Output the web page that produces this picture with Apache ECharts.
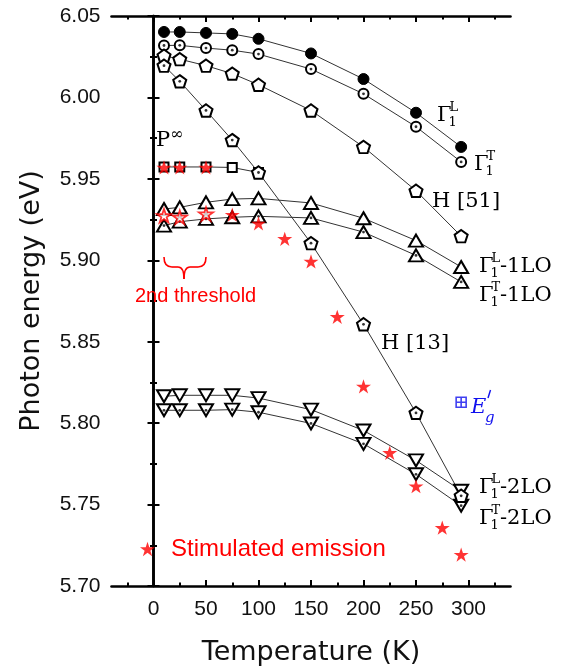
<!DOCTYPE html>
<html><head><meta charset="utf-8">
<script src="https://cdn.jsdelivr.net/npm/echarts@6/dist/echarts.min.js"></script>
<style>html,body{margin:0;padding:0;background:#fff}#c{width:578px;height:671px}</style>
</head><body><div id="c"></div><script>
// ---- data ----
const temps = [10, 25, 50, 75, 100, 150, 200, 250, 293];
const gammaL    = [6.0402, 6.0402, 6.0396, 6.0390, 6.0360, 6.0270, 6.0113, 5.9906, 5.9696];
const gammaT    = [6.0319, 6.0320, 6.0303, 6.0290, 6.0266, 6.0174, 6.0022, 5.9820, 5.9604];
const h51       = [6.0256, 6.0235, 6.0195, 6.0146, 6.0078, 5.9920, 5.9696, 5.9427, 5.9148];
const h13       = [6.0195, 6.0099, 5.9920, 5.9738, 5.9539, 5.9105, 5.8607, 5.8063, 5.7554];
const gammaL1LO = [5.9315, 5.9325, 5.9356, 5.9376, 5.9380, 5.9352, 5.9258, 5.9121, 5.8959];
const gammaT1LO = [5.9213, 5.9237, 5.9254, 5.9264, 5.9270, 5.9260, 5.9173, 5.9030, 5.8867];
const gammaL2LO = [5.8165, 5.8171, 5.8171, 5.8171, 5.8154, 5.8083, 5.7955, 5.7771, 5.7585];
const gammaT2LO = [5.8079, 5.8079, 5.8079, 5.8083, 5.8067, 5.7998, 5.7873, 5.7686, 5.7493];
const pInfTemps = [10, 25, 50, 75, 100];
const pInf      = [5.9573, 5.9573, 5.9573, 5.9570, 5.9539];
const stimTemps  = [10, 25, 50, 75, 100, 125, 150, 175, 200, 225, 250, 275, 293];
const stimEnergy = [5.9570, 5.9570, 5.9570, 5.9280, 5.9227, 5.9132, 5.8993, 5.8653, 5.8226, 5.7818, 5.7613, 5.7358, 5.7193];
const stimOpenTemps  = [10, 25, 50];
const stimOpenEnergy = [5.9274, 5.9264, 5.9284];
const egTemps  = [293];
const egEnergy = [5.8128];
const xMajorTicks = [0, 50, 100, 150, 200, 250, 300];
const xMinorTicks = [-25, 25, 75, 125, 175, 225, 275, 325];

// ---- helpers ----
const zip = (xs, ys) => xs.map((x, i) => [x, ys[i]]);
const STAR = 'path://M0,-100L22.45,-30.9L95.1,-30.9L36.33,11.8L58.8,80.9L0,38.2L-58.8,80.9L-36.33,11.8L-95.1,-30.9L-22.45,-30.9Z';
const PENT = 'path://M0,-100L95.1,-30.9L58.8,80.9L-58.8,80.9L-95.1,-30.9Z';
const UTRI = 'path://M0,-86.6L100,86.6L-100,86.6Z';
const DTRI = 'path://M-100,-86.6L100,-86.6L0,86.6Z';
const BOXX = 'path://M0,0L10,0L10,10L0,10Z M5,0L5,10 M0,5L10,5';

const openStyle = {color: '#fff', borderColor: '#000', borderWidth: 2};
function lineSeries(name, xs, ys, symbol, size, style) {
  return {
    name, type: 'line', data: zip(xs, ys), symbol, symbolSize: size, symbolKeepAspect: false,
    showSymbol: true, showAllSymbol: true,
    lineStyle: {color: '#333', width: 1}, itemStyle: style || openStyle,
    emphasis: {disabled: true}, silent: true, animation: false
  };
}
function dotSeries(xs, ys) {
  return {type: 'scatter', data: zip(xs, ys), symbol: 'circle', symbolSize: 2.8,
    itemStyle: {color: '#000'}, silent: true, animation: false, z: 3};
}

const axisLineStyle = {show: true, lineStyle: {color: '#000', width: 2.6}};
const tickStyle = {color: '#000', width: 2};
const xBase = {type: 'value', min: -40, max: 340, gridIndex: 0, splitLine: {show: false}};
const yBase = {type: 'value', min: 5.70, max: 6.05, interval: 0.05, splitLine: {show: false}};

const serifFont = '"DejaVu Serif", "Liberation Serif", serif';
function gLabel(x, y, sup, sub, tail) {
  const els = [
    {type: 'text', x: x, y: y, z: 20, style: {text: 'Γ', font: '21px ' + serifFont, fill: '#000', verticalAlign: 'middle'}},
    {type: 'text', x: x + 12.5, y: y - 8, z: 20, style: {text: sup, font: '13px ' + serifFont, fill: '#000', verticalAlign: 'middle'}},
    {type: 'text', x: x + 11.5, y: y + 6.5, z: 20, style: {text: sub, font: '13px ' + serifFont, fill: '#000', verticalAlign: 'middle'}}
  ];
  if (tail) els.push({type: 'text', x: x + 21, y: y, z: 20, style: {text: tail, font: '21px ' + serifFont, fill: '#000', verticalAlign: 'middle'}});
  return els;
}
const red = '#ff0000';
const blue = '#1010ee';
const braceStyle = {fill: 'none', stroke: red, lineWidth: 1.6};

const chart = echarts.init(document.getElementById('c'), null, {renderer: 'canvas'});
chart.setOption({
  animation: false,
  backgroundColor: '#fff',
  grid: {left: 111.5, right: 67.5, top: 16, bottom: 82.5, containLabel: false},
  legend: {
    data: [{name: 'Stimulated emission', icon: STAR}],
    left: 135, top: 532, itemWidth: 15, itemHeight: 15,
    textStyle: {color: red, fontSize: 24, fontFamily: '"Liberation Sans", Arial, sans-serif', padding: [0, 0, 0, 11]},
    selectedMode: false
  },
  xAxis: [
    Object.assign({}, xBase, {
      position: 'bottom', axisLine: axisLineStyle,
      axisTick: {show: true, inside: true, length: 6, lineStyle: tickStyle, customValues: xMajorTicks},
      axisLabel: {show: true, customValues: xMajorTicks, margin: 13, fontSize: 21, color: '#111',
        fontFamily: '"Liberation Sans", Arial, sans-serif'},
      name: 'Temperature (K)', nameLocation: 'middle', nameGap: 53,
      nameTextStyle: {fontSize: 27, color: '#111', fontFamily: '"DejaVu Sans", sans-serif'}
    }),
    Object.assign({}, xBase, {
      position: 'bottom', axisLine: {show: false},
      axisTick: {show: true, inside: true, length: 3.5, lineStyle: tickStyle, customValues: xMinorTicks},
      axisLabel: {show: false}
    }),
    Object.assign({}, xBase, {
      position: 'top', axisLine: axisLineStyle,
      axisTick: {show: true, inside: true, length: 6, lineStyle: tickStyle, customValues: xMajorTicks},
      axisLabel: {show: false}
    }),
    Object.assign({}, xBase, {
      position: 'top', axisLine: {show: false},
      axisTick: {show: true, inside: true, length: 3.5, lineStyle: tickStyle, customValues: xMinorTicks},
      axisLabel: {show: false}
    })
  ],
  yAxis: [
    Object.assign({}, yBase, {
      position: 'left', axisLine: axisLineStyle,
      axisTick: {show: true, inside: true, length: 6, lineStyle: tickStyle},
      minorTick: {show: true, splitNumber: 2, length: 3.5, lineStyle: tickStyle},
      minorSplitLine: {show: false},
      axisLabel: {show: true, margin: 11, fontSize: 21, color: '#111',
        fontFamily: '"Liberation Sans", Arial, sans-serif', formatter: v => v.toFixed(2)},
      name: 'Photon energy (eV)', nameLocation: 'middle', nameGap: 66, nameRotate: 90,
      nameTextStyle: {fontSize: 27, color: '#111', fontFamily: '"DejaVu Sans", sans-serif'}
    }),
    Object.assign({}, yBase, {
      position: 'right', axisLine: axisLineStyle,
      axisTick: {show: true, inside: true, length: 6, lineStyle: tickStyle},
      minorTick: {show: true, splitNumber: 2, length: 3.5, lineStyle: tickStyle},
      minorSplitLine: {show: false},
      axisLabel: {show: false}
    })
  ],
  series: [
    lineSeries('P∞', pInfTemps, pInf, 'rect', 9),
    lineSeries('Γ1L', temps, gammaL, 'circle', 11, {color: '#000', borderColor: '#000', borderWidth: 1}),
    lineSeries('Γ1T', temps, gammaT, 'circle', 10),
    lineSeries('H [51]', temps, h51, PENT, [13, 12.4]),
    lineSeries('Γ1L-1LO', temps, gammaL1LO, UTRI, [14, 12]),
    lineSeries('Γ1T-1LO', temps, gammaT1LO, UTRI, [14, 12]),
    lineSeries('Γ1L-2LO', temps, gammaL2LO, DTRI, [14, 12]),
    lineSeries('Γ1T-2LO', temps, gammaT2LO, DTRI, [14, 12]),
    lineSeries('H [13]', temps, h13, PENT, [13, 12.4]),
    dotSeries(temps, gammaT),
    dotSeries(temps, gammaT1LO),
    dotSeries(temps, gammaT2LO),
    dotSeries(temps, h13),
    {name: 'Stimulated emission (open)', type: 'scatter', data: zip(stimOpenTemps, stimOpenEnergy), symbol: STAR,
      symbolSize: 14, symbolKeepAspect: true, itemStyle: {color: '#fff', borderColor: red, borderWidth: 1.8},
      silent: true, z: 4},
    {name: 'Stimulated emission', type: 'scatter', data: zip(stimTemps, stimEnergy), symbol: STAR,
      symbolSize: 15, symbolKeepAspect: true, itemStyle: {color: red}, silent: true, z: 4},
    {name: "E'g", type: 'scatter', data: zip(egTemps, egEnergy), symbol: BOXX, symbolSize: 10,
      itemStyle: {color: '#fff', borderColor: blue, borderWidth: 1.6}, silent: true, z: 4}
  ],
  graphic: [
    {type: 'rect', z: 15, shape: {x: 474, y: 246, width: 92, height: 66}, style: {fill: '#fff'}},
    {type: 'rect', z: 15, shape: {x: 474, y: 467, width: 92, height: 66}, style: {fill: '#fff'}},
    {type: 'text', x: 156, y: 141, z: 20, style: {text: 'P', font: '21px ' + serifFont, fill: '#000', verticalAlign: 'middle'}},
    {type: 'text', x: 170, y: 135, z: 20, style: {text: '∞', font: '16px ' + serifFont, fill: '#000', verticalAlign: 'middle'}},
    ...gLabel(437, 116, 'L', '1'),
    ...gLabel(474, 165, 'T', '1'),
    {type: 'text', x: 432, y: 202, z: 20, style: {text: 'H [51]', font: '21px ' + serifFont, fill: '#000', verticalAlign: 'middle'}},
    {type: 'text', x: 381, y: 344, z: 20, style: {text: 'H [13]', font: '21px ' + serifFont, fill: '#000', verticalAlign: 'middle'}},
    ...gLabel(479, 267, 'L', '1', '-1LO'),
    ...gLabel(479, 296, 'T', '1', '-1LO'),
    ...gLabel(479, 488, 'L', '1', '-2LO'),
    ...gLabel(479, 519, 'T', '1', '-2LO'),
    {type: 'text', x: 471, y: 408, z: 20, style: {text: 'E', font: 'italic 21px ' + serifFont, fill: blue, verticalAlign: 'middle'}},
    {type: 'line', z: 20, shape: {x1: 490.5, y1: 390, x2: 488, y2: 398}, style: {stroke: blue, lineWidth: 1.4}},
    {type: 'text', x: 485, y: 418, z: 20, style: {text: 'g', font: 'italic 15px ' + serifFont, fill: blue, verticalAlign: 'middle'}},
    {type: 'bezierCurve', z: 20, shape: {x1: 164, y1: 257, x2: 172, y2: 267, cpx1: 164, cpy1: 267}, style: braceStyle},
    {type: 'line', z: 20, shape: {x1: 172, y1: 267, x2: 178, y2: 267}, style: braceStyle},
    {type: 'bezierCurve', z: 20, shape: {x1: 178, y1: 267, x2: 184, y2: 279, cpx1: 184, cpy1: 267}, style: braceStyle},
    {type: 'bezierCurve', z: 20, shape: {x1: 184, y1: 279, x2: 190, y2: 267, cpx1: 184, cpy1: 267}, style: braceStyle},
    {type: 'line', z: 20, shape: {x1: 190, y1: 267, x2: 198, y2: 267}, style: braceStyle},
    {type: 'bezierCurve', z: 20, shape: {x1: 198, y1: 267, x2: 206, y2: 257, cpx1: 206, cpy1: 267}, style: braceStyle},
    {type: 'text', x: 135, y: 296, z: 20, style: {text: '2nd threshold', font: '20px "Liberation Sans", Arial, sans-serif', fill: red, verticalAlign: 'middle'}}
  ]
});
</script></body></html>
